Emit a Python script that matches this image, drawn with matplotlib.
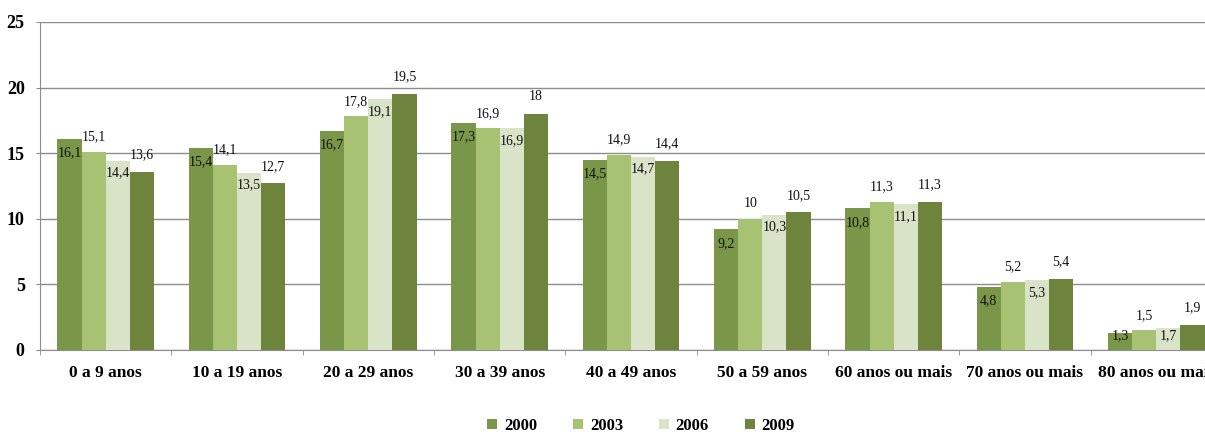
import numpy as np
import matplotlib
matplotlib.use("Agg")
import matplotlib.pyplot as plt

plt.rcParams["font.family"] = ["Liberation Serif", "DejaVu Serif"]

# faixas etárias e percentuais por ano
faixas = ["0 a 9 anos", "10 a 19 anos", "20 a 29 anos", "30 a 39 anos",
          "40 a 49 anos", "50 a 59 anos", "60 anos ou mais", "70 anos ou mais",
          "80 anos ou mais"]
anos = ["2000", "2003", "2006", "2009"]
v2000 = [16.1, 15.4, 16.7, 17.3, 14.5, 9.2, 10.8, 4.8, 1.3]
v2003 = [15.1, 14.1, 17.8, 16.9, 14.9, 10.0, 11.3, 5.2, 1.5]
v2006 = [14.4, 13.5, 19.1, 16.9, 14.7, 10.3, 11.1, 5.3, 1.7]
v2009 = [13.6, 12.7, 19.5, 18.0, 14.4, 10.5, 11.3, 5.4, 1.9]
series = [v2000, v2003, v2006, v2009]

cores = ["#7a9648", "#a8c274", "#d9e3c8", "#6e833c"]
# deslocamento do rótulo em pixels (negativo = dentro da barra)
desloc = [-14, 15, -12, 17]

fig = plt.figure(figsize=(12.05, 4.32), dpi=100)
ax = fig.add_axes([40 / 1205, 82 / 432, 1182 / 1205, 328 / 432])

x = np.arange(len(faixas))
w = 0.184
px_por_unid = 328 / 25

for i, (vals, cor) in enumerate(zip(series, cores)):
    pos = x - 1.5 * w + i * w
    ax.bar(pos, vals, width=w, color=cor, label=anos[i], zorder=3)
    for xp, v in zip(pos, vals):
        d = desloc[i]
        if d < 0:
            d = -min(-d, v * px_por_unid - 14)
        ax.annotate(f"{v:g}".replace(".", ","), (xp, v), xytext=(0, d * 0.72),
                    textcoords="offset points", ha="center", va="center",
                    fontsize=10, color="#111111", zorder=4)

ax.set_xlim(-0.5, len(faixas) - 0.5)
ax.set_ylim(0, 25)
ax.set_yticks([0, 5, 10, 15, 20, 25])
ax.grid(axis="y", color="#8c8c8c", linewidth=1, zorder=0)
ax.set_xticks(x)
ax.set_xticklabels(faixas, fontsize=12.5, fontweight="bold")
ax.set_xticks(np.arange(len(faixas) + 1) - 0.5, minor=True)
ax.tick_params(axis="x", which="major", length=0, pad=11)
ax.tick_params(axis="x", which="minor", length=3.5, color="#8c8c8c")
ax.tick_params(axis="y", length=3, color="#8c8c8c", labelsize=13, pad=8)
for lbl in ax.get_yticklabels():
    lbl.set_fontweight("bold")

for s in ["top", "right"]:
    ax.spines[s].set_visible(False)
ax.spines["left"].set_color("#8c8c8c")
ax.spines["bottom"].set_color("#8c8c8c")

leg = fig.legend(loc="center", bbox_to_anchor=(641 / 1205, 1 - 426 / 432),
                 ncol=4, frameon=False, handlelength=0.6, handleheight=0.6,
                 columnspacing=2.15, handletextpad=0.4,
                 prop={"weight": "bold", "size": 12})

fig.savefig("out.png", dpi=100)
